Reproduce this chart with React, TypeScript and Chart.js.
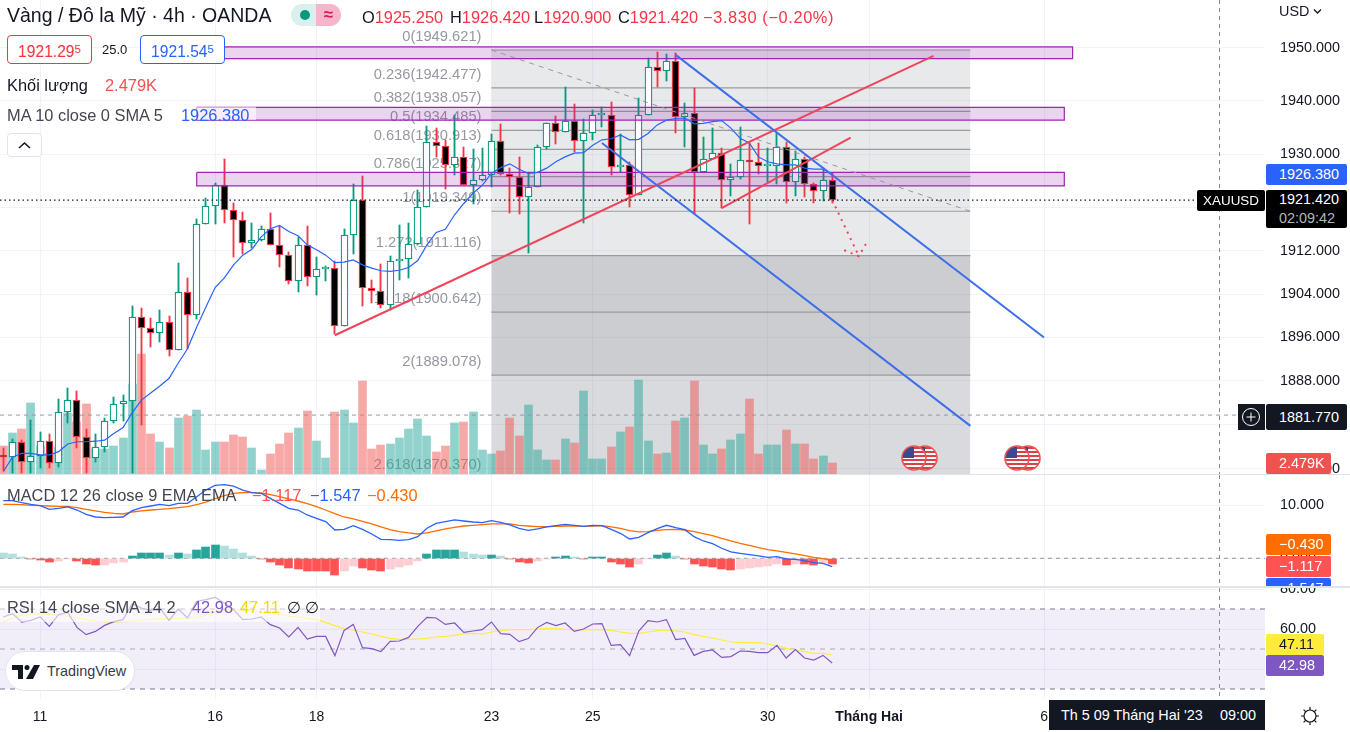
import React, { useEffect, useRef } from "react";
import { Chart, registerables } from "chart.js";

Chart.register(...registerables);

const FONT = '"Liberation Sans", Arial, sans-serif';

const open = [1874.5,1874.1,1876.8,1873.3,1874.3,1877,1873,1882.3,1884.6,1877.7,1873.9,1875.9,1880.6,1883.7,1884.3,1899.7,1897.7,1896.8,1898.8,1893.6,1904.3,1900.1,1917,1920.3,1924.2,1919.5,1917.7,1913.4,1914,1916,1913,1911.2,1906.5,1913,1907.1,1908.6,1908.8,1898.1,1914.9,1921.4,1905.2,1904.5,1901.9,1910.1,1910.4,1913.3,1920.1,1932.2,1931.6,1927.9,1929.4,1924.2,1925.1,1926.1,1932.4,1926.3,1925.8,1922,1923.8,1931.3,1935.8,1934.1,1936.2,1932.4,1933.9,1937.3,1937.3,1927.6,1927.9,1922.3,1937.3,1946.4,1945.6,1947.5,1937,1937.7,1926.6,1929.2,1930.2,1925.1,1925.7,1928.9,1928.5,1927.8,1927.8,1931.3,1924.8,1929.1,1924.4,1923.1,1925.25];
const high = [1875.8,1877.4,1877.2,1880.9,1878.6,1878.4,1884.7,1886.7,1886.1,1879.2,1878.4,1881.2,1885,1885.4,1901.8,1901.4,1899.6,1901.1,1900,1909.7,1907,1917.9,1921.8,1924.6,1929.1,1920.8,1919.3,1917.1,1916.6,1919,1916.7,1911.8,1914.6,1916.6,1910.8,1909.1,1910.2,1916,1924.4,1925.9,1906.6,1909.6,1911,1916.8,1917.2,1923.3,1935.3,1934.9,1932.7,1937.4,1931.4,1931,1931.1,1933.8,1935.7,1927.4,1929.5,1926.4,1931.7,1935.8,1937.2,1942.6,1939.4,1936.6,1938.3,1938.8,1939.8,1933.8,1928.6,1940.6,1948.1,1949.2,1948.9,1949,1939.6,1942.4,1933.2,1934.9,1931.1,1928.1,1935.1,1932.1,1932.1,1931.1,1934,1932.2,1930.7,1929.4,1924.6,1927.4,1926.42];
const low = [1871.5,1871.2,1871.2,1871.2,1872.2,1872.2,1872.4,1880.3,1875.8,1871.2,1873.3,1875.1,1880.3,1880.6,1871.2,1880,1894.3,1895.2,1892.5,1893.6,1893.8,1899.4,1917,1917,1917.1,1910.9,1911.4,1912.5,1913.8,1913,1909,1905.9,1904.4,1905.4,1903.9,1906.5,1896.6,1898.1,1911.4,1901.7,1902.4,1901.5,1901.1,1906.6,1907,1913.1,1920.1,1929.5,1923.5,1926.1,1924.2,1920.7,1925,1923.9,1926.1,1919.1,1918.9,1911.6,1923.8,1930.9,1931.9,1934.1,1930.5,1917.2,1932.7,1935.1,1926.1,1926.6,1920.1,1922.3,1937.3,1942.7,1943.8,1934,1931.4,1918.8,1926.6,1929.2,1919.9,1922.2,1925.3,1916.9,1926.3,1924.8,1924.4,1920.8,1922.2,1922,1920.9,1921.3,1920.9];
const close = [1874.1,1876.8,1873.3,1874.3,1877,1873,1882.3,1884.6,1877.7,1873.9,1875.9,1880.6,1883.7,1884.3,1899.7,1897.7,1896.8,1898.8,1893.6,1904.3,1900.1,1917,1920.3,1924.2,1919.5,1917.7,1913.4,1914,1916,1913,1911.2,1906.5,1913,1907.1,1908.6,1908.8,1898.1,1914.9,1921.4,1905.2,1904.5,1901.9,1910.1,1910.4,1913.3,1920.1,1932.2,1931.6,1927.9,1929.4,1924.2,1925.1,1926.1,1932.4,1926.3,1925.8,1922,1923.8,1931.3,1935.8,1934.1,1936.2,1932.4,1933.9,1937.3,1937.3,1927.6,1927.9,1922.3,1937.3,1946.4,1945.6,1947.5,1937,1937.7,1926.6,1929.2,1930.2,1925.1,1925.7,1928.9,1928.5,1927.8,1927.8,1931.3,1924.8,1929.1,1924.4,1923.1,1925.25,1921.42];
const ma10 = [1871.5,1874.1,1874.8,1874.8,1874.5,1874.5,1875.1,1876.5,1876.9,1876.9,1877,1877.2,1878.4,1879.5,1882.2,1884.5,1885.8,1887.1,1888.5,1891.3,1893.9,1897.9,1901.6,1905.2,1907,1909.4,1911.2,1912.3,1914.6,1916.1,1916.7,1915.6,1914.8,1913.1,1912.2,1911.2,1909.8,1909.9,1910.3,1909.4,1908.8,1908.3,1908.2,1908.4,1908.9,1910.2,1913.1,1915.4,1916,1918.7,1920.8,1922.7,1924.2,1926.4,1927.5,1928.2,1927.2,1926.4,1926.6,1927.4,1928.6,1929.5,1930.2,1930.3,1931.7,1932.7,1932.9,1933.6,1932.7,1932.8,1933.9,1935.5,1936.4,1936.7,1936.8,1935.7,1935.8,1936.1,1936.3,1934.9,1933,1932.1,1929.5,1928.6,1928.2,1928,1928,1927.4,1927.2,1927.2,1926.38];
const volumeK = [6.4,9.3,10.2,16.1,6.2,4.7,6.1,13.7,11.7,15.8,5.6,5.6,6.2,8.2,20.3,27,9.1,7.1,5.9,12.7,13.1,14.5,5.5,7.1,7.1,8.9,8.4,5.9,1,4.4,6.8,9.3,10.4,14.3,7.5,3.7,14,14.5,11.6,21,5.7,6.6,6.8,8.2,10.2,12.5,8.6,5,6.4,11.6,11.8,14,5.3,4.6,5.2,12.6,8.6,15.6,5.4,3.2,3.2,7.9,7,18.7,3.4,3.4,6.1,9.5,10.6,21.2,7.4,4.5,4.7,11.9,12.6,21,6.5,4.5,5.6,7.7,9,16.9,4.5,6.5,6.5,9.9,6.8,6.8,3.4,4.1,2.479];
const macdHist = [1,.81,.25,-.06,-.31,-.69,-.5,-.06,-.5,-1.06,-1.25,-1.19,-.88,-.69,.44,1,1,1,.63,1,.81,1.56,2.13,2.5,2.31,1.75,1,.44,-.06,-.69,-1.25,-1.81,-2,-2.38,-2.38,-2.38,-3.13,-2.38,-1.44,-1.81,-2.19,-2.38,-2,-1.63,-1.25,-.5,.81,1.56,1.56,1.56,1.19,.81,.63,.63,.44,-.06,-.69,-.88,-.5,-.06,.25,.44,.25,-.13,.25,.25,-.69,-1.06,-1.63,-1.06,-.06,.63,1,.44,-.06,-1.06,-1.44,-1.63,-2,-2.19,-2,-1.81,-1.63,-1.44,-1.06,-1.25,-1.06,-1.06,-1.25,-.88,-1.117];
const macdLine = [10.81,10.81,10.44,10.13,9.88,9.19,9.38,9.63,9.06,8.25,7.75,7.63,7.69,7.75,8.94,9.5,9.81,10.13,9.88,10.31,10.31,11.56,12.81,13.69,13.81,13.56,12.81,12.31,12.19,11.25,10.31,9.38,9.06,8.13,7.5,6.88,5.31,5.44,6.13,5.44,4.56,3.56,3.5,3.38,3.5,4.06,5.63,6.56,6.88,7.19,7,6.81,6.69,7.06,6.75,6.25,5.63,5.25,5.5,5.88,6.13,6.38,6.19,6,6.19,6.13,5.44,4.69,3.63,3.94,4.81,5.56,6.19,5.75,5.38,4.06,3.25,2.75,1.88,1.19,.94,.69,.44,.19,.31,-.13,-.19,-.44,-.81,-.94,-1.547];
const macdSignal = [10.13,10.13,10.06,9.94,9.88,9.81,9.75,9.75,9.5,9.19,8.88,8.63,8.44,8.31,8.69,8.88,9.06,9.19,9.31,9.5,9.69,10.06,10.56,11.19,11.75,12.19,12.31,12.31,12.25,11.94,11.56,11.13,10.75,10.25,9.69,9.06,8.38,7.75,7.38,6.94,6.44,5.88,5.38,5,4.75,4.56,4.75,5.13,5.5,5.81,6.06,6.19,6.31,6.44,6.44,6.44,6.19,6.06,5.94,5.94,6,6.06,6.06,6,6.06,6.13,5.88,5.63,5.19,4.94,5,5.25,5.38,5.44,5.31,5,4.63,4.25,3.75,3.25,2.81,2.44,2,1.63,1.38,1.13,.81,.5,.19,-.06,-.43];
const rsi = [66,67.7,63.5,64.3,66,61.3,67.2,68.3,60.8,57.2,58.8,61.8,63.7,64.7,72.7,70.5,69.3,70.5,64.3,70,65.5,73.8,74.7,75.8,73,69.7,64.7,65,66,62.2,60.5,56,60.8,55,56.3,56.3,46.7,59.3,62.3,50.7,50.2,48.7,53.8,54,55.8,61.3,65.8,65.5,62.3,63,58.3,59,59.7,63.5,57.7,57.3,53.7,55.2,60.7,63.3,61.7,63,58.8,60,62.5,62.7,51.8,52.2,46.7,59,64.2,63.5,64.7,54.7,55.3,46.8,48.8,49.5,45.8,46.2,49,48.8,48.2,48.2,51.8,45.5,49.7,45.5,44.5,46.8,42.98];
const rsiSma = [63.5,65.5,66.8,67.5,67.7,67.3,67,66.3,65.7,64.7,64,63.5,63.5,63.7,64,64.5,64.7,65.2,65.3,65.3,65.5,66,66.8,68.3,69.3,69.5,69.3,69,68.5,67.8,67.3,66.5,66,65.3,64.7,63.3,61.7,60.2,59.5,58.5,57.5,56.3,55.3,54.8,54.8,55,55.3,56,56.3,56.8,57.7,57.8,57.5,58.5,59.2,59.7,59.7,59.7,60,60.3,60.2,59.8,59.7,59.5,59.7,59.8,59.3,58.5,57.8,57.8,58.5,59.2,59.5,59,58.5,57.2,56.3,55.5,54.5,53.5,53.3,53.2,53.2,52.5,51.7,50.3,49.5,48.7,47.8,47.8,47.11];

const dayTickBars = [4, 23, 34, 53, 64, 83, 94, 113];
const dayTickLabels = ["11", "16", "18", "23", "25", "30", "Tháng Hai", "6"];
const priceTicks = [1950, 1940, 1930, 1920, 1912, 1904, 1896, 1888, 1880, 1872];
const macdTicks = [10, 0];
const rsiTicks = [80, 60, 40];

const fibRatios = [0, 0.236, 0.382, 0.5, 0.618, 0.786, 1, 1.272, 1.618, 2, 2.618];
const fibPrices = [1949.621, 1942.477, 1938.057, 1934.485, 1930.913, 1925.827, 1919.349, 1911.116, 1900.642, 1889.078, 1870.37];
const fibFromBar = 53;
const fibToBar = 105;

const zoneTops = [1950.2, 1938.8, 1926.6];
const zoneBottoms = [1948, 1936.4, 1924.1];
const zoneFromBars = [21, 21, 21];
const zoneToBars = [116.1, 115.2, 115.2];

const blueUpper = [[73, 1948.7], [113, 1896]];
const blueLower = [[65, 1932.1], [105, 1879.8]];
const redLong = [[36, 1896.4], [101, 1948.5]];
const redShort = [[78, 1919.95], [92, 1933.1]];
const arrowShaft = [[90, 1921.42], [92.9, 1911]];
const arrowHeadA = [[91.3, 1912.1], [92.9, 1911], [93.9, 1914]];
const lastPrice = 1921.42;
const crossPrice = 1881.77;
const crossBar = 132;

const xMin = -0.358;
const xMax = 136.99;
const bars = open.map((_, i) => i);
const isUp = (i: number) => close[i] >= open[i];

const GRID = "#f0f3fa";
const pts = (a: number[][]) => a.map(([x, y]) => ({ x, y }));
const flat = (v: number, a = xMin, b = xMax) => [{ x: a, y: v }, { x: b, y: v }];
const lineDs = (data: any[], color: string, width: number, order: number, extra: any = {}) => ({
  type: "line", data, borderColor: color, borderWidth: width, pointRadius: 0, tension: 0, order, yAxisID: "y", fill: false, ...extra,
});

const noPad = (s: any) => { s.paddingTop = 0; s.paddingBottom = 0; s.paddingLeft = 0; s.paddingRight = 0; };

const snapBars = {
  id: "snapBars",
  afterDatasetsUpdate(chart: any) {
    chart.data.datasets.forEach((_: any, idx: number) => {
      const meta = chart.getDatasetMeta(idx);
      if (meta.type !== "bar") return;
      meta.data.forEach((el: any) => {
        el.x = Math.floor(el.x) + 0.5;
        el.y = Math.round(el.y);
        el.base = Math.round(el.base);
      });
    });
  },
};

const crosshair = {
  id: "crosshair",
  afterDraw(chart: any) {
    const { ctx, chartArea, scales } = chart;
    const px = scales.x.getPixelForValue(crossBar);
    ctx.save();
    ctx.strokeStyle = "#8b8e97";
    ctx.setLineDash([4, 4]);
    ctx.lineWidth = 1;
    ctx.beginPath();
    ctx.moveTo(Math.round(px) + 0.5, chartArea.top);
    ctx.lineTo(Math.round(px) + 0.5, chartArea.bottom);
    ctx.stroke();
    ctx.restore();
  },
};

const fibLabels = {
  id: "fibLabels",
  beforeDatasetsDraw(chart: any) {
    const { ctx, scales } = chart;
    ctx.save();
    ctx.font = `14.7px ${FONT}`;
    ctx.fillStyle = "#9598a1";
    ctx.textAlign = "right";
    ctx.textBaseline = "middle";
    const x = scales.x.getPixelForValue(fibFromBar) - 10;
    fibRatios.forEach((r, i) => {
      ctx.fillText(`${r}(${fibPrices[i].toFixed(3)})`, x, scales.y.getPixelForValue(fibPrices[i]) - 13);
    });
    ctx.restore();
  },
};

function scales(yType: string, yMin: number, yMax: number, yTicks: number[], digits: number, xHeight = 0, withLabels = false): any {
  return {
    x: {
      type: "linear", min: xMin, max: xMax, offset: false, bounds: "data",
      grid: { color: GRID, drawTicks: false, offset: false },
      border: { display: false },
      afterBuildTicks: (s: any) => { s.ticks = dayTickBars.map((value) => ({ value })); },
      afterFit: (s: any) => { s.height = xHeight; noPad(s); },
      ticks: {
        display: withLabels, autoSkip: false, maxRotation: 0, padding: 10, color: "#131722",
        font: (c: any) => ({ family: FONT, size: 14, weight: c.tick && c.tick.value === 94 ? "bold" : "normal" }),
        callback: (v: number) => dayTickLabels[dayTickBars.indexOf(v)] ?? "",
      },
    },
    y: {
      type: yType, position: "right", min: yMin, max: yMax, bounds: "data",
      grid: { color: GRID, drawTicks: false },
      border: { display: false },
      afterBuildTicks: (s: any) => { s.ticks = yTicks.map((value) => ({ value })); },
      afterFit: (s: any) => { s.width = 85; noPad(s); },
      ticks: {
        autoSkip: false, padding: 15, color: "#131722", font: { family: FONT, size: 14.4 },
        callback: (v: number) => Number(v).toFixed(digits),
      },
    },
  };
}

const baseOptions = (sc: any, top = 0): any => ({
  responsive: false, animation: false, events: [],
  layout: { padding: { top, left: 0, right: 0, bottom: 0 } },
  plugins: { legend: { display: false }, tooltip: { enabled: false } },
  scales: sc,
});

function priceConfig(): any {
  const datasets: any[] = [];
  const area = (a: number, b: number, alpha: number) =>
    lineDs(flat(a, fibFromBar, fibToBar), "transparent", 0, 60, { fill: { value: b }, backgroundColor: `rgba(120,123,134,${alpha})` });
  datasets.push(area(fibPrices[0], fibPrices[7], 0.17));
  datasets.push(area(fibPrices[7], fibPrices[9], 0.38));
  datasets.push(area(fibPrices[9], fibPrices[10], 0.28));
  fibPrices.forEach((p) => datasets.push(lineDs(flat(p, fibFromBar, fibToBar), "#9a9aa1", 1.2, 55)));
  datasets.push({
    type: "bar", yAxisID: "v", order: 50, grouped: false, barThickness: 8,
    data: bars.map((i) => ({ x: i, y: volumeK[i] })),
    backgroundColor: bars.map((i) => (isUp(i) ? "rgba(38,166,154,.5)" : "rgba(239,83,80,.5)")),
    borderWidth: 0,
  });
  datasets.push(lineDs(flat(crossPrice), "#9598a1", 1, 45, { borderDash: [4, 4] }));
  datasets.push({
    type: "bar", yAxisID: "y", order: 30, grouped: false, barThickness: 1.2, borderWidth: 0,
    data: bars.map((i) => ({ x: i, y: [low[i], high[i]] })),
    backgroundColor: bars.map((i) => (isUp(i) ? "#089981" : "#f23645")),
  });
  datasets.push({
    type: "bar", yAxisID: "y", order: 29, grouped: false, barThickness: 7, borderWidth: 1.25, borderSkipped: false, minBarLength: 2,
    data: bars.map((i) => ({ x: i, y: [Math.min(open[i], close[i]), Math.max(open[i], close[i])] })),
    backgroundColor: bars.map((i) => (isUp(i) ? "#ffffff" : "#000000")),
    borderColor: bars.map((i) => (isUp(i) ? "#089981" : "#f23645")),
  });
  zoneTops.forEach((t, i) => {
    const a = zoneFromBars[i];
    const b = zoneToBars[i];
    const bot = zoneBottoms[i];
    datasets.push(lineDs(flat(t, a, b), "transparent", 0, 25, { fill: { value: bot }, backgroundColor: "rgba(156,39,176,.2)" }));
    datasets.push(lineDs([{ x: a, y: t }, { x: b, y: t }, { x: b, y: bot }, { x: a, y: bot }, { x: a, y: t }], "#9c27b0", 1.2, 24));
  });
  datasets.push(lineDs(bars.map((i) => ({ x: i, y: ma10[i] })), "#2962ff", 1.2, 20));
  datasets.push(lineDs([{ x: fibFromBar, y: fibPrices[0] }, { x: fibToBar, y: fibPrices[6] }], "#9598a1", 1, 15, { borderDash: [5, 5] }));
  datasets.push(lineDs(pts(redLong), "#ef4459", 2, 12));
  datasets.push(lineDs(pts(redShort), "#ef4459", 2, 12));
  datasets.push(lineDs(pts(blueUpper), "#3f6fe8", 2, 11));
  datasets.push(lineDs(pts(blueLower), "#3f6fe8", 2, 11));
  datasets.push(lineDs(pts(arrowShaft), "#ef4459", 2, 10, { borderDash: [2, 5] }));
  datasets.push(lineDs(pts(arrowHeadA), "#ef4459", 2, 10, { borderDash: [2, 5] }));
  datasets.push(lineDs(flat(lastPrice), "#131722", 1.4, 5, { borderDash: [1.5, 3] }));
  const sc = scales("logarithmic", 1871.04, 1959.1, priceTicks, 3);
  sc.v = { type: "linear", display: false, min: 0, max: 106.8, bounds: "data" };
  return { type: "bar", data: { datasets }, options: baseOptions(sc), plugins: [snapBars, fibLabels, crosshair] };
}

function macdConfig(): any {
  const colorFor = (i: number) => {
    const v = macdHist[i];
    const prev = i > 0 ? macdHist[i - 1] : Infinity;
    if (v >= 0) return v >= prev ? "#26a69a" : "#b2dfdb";
    return v <= prev ? "#ff5252" : "#ffcdd2";
  };
  const datasets: any[] = [
    lineDs(flat(0), "#9598a1", 1, 40, { borderDash: [4, 4] }),
    {
      type: "bar", yAxisID: "y", order: 30, grouped: false, barThickness: 8, borderWidth: 0,
      data: bars.map((i) => ({ x: i, y: macdHist[i] })),
      backgroundColor: bars.map(colorFor),
    },
    lineDs(bars.map((i) => ({ x: i, y: macdSignal[i] })), "#ff6d00", 1.3, 21),
    lineDs(bars.map((i) => ({ x: i, y: macdLine[i] })), "#2962ff", 1.3, 20),
  ];
  return { type: "bar", data: { datasets }, options: baseOptions(scales("linear", -5.2, 15.63, macdTicks, 3)), plugins: [snapBars, crosshair] };
}

function rsiConfig(): any {
  const datasets: any[] = [
    lineDs(flat(70), "transparent", 0, 40, { fill: { value: 30 }, backgroundColor: "rgba(126,87,194,.1)" }),
    lineDs(flat(70), "#787b86", 1, 39, { borderDash: [5, 5] }),
    lineDs(flat(50), "#a8abb3", 1, 39, { borderDash: [5, 5] }),
    lineDs(flat(30), "#787b86", 1, 39, { borderDash: [5, 5] }),
    lineDs(bars.map((i) => ({ x: i, y: rsiSma[i] })), "#ffeb3b", 1.2, 21),
    lineDs(bars.map((i) => ({ x: i, y: rsi[i] })), "#7e57c2", 1.2, 20),
  ];
  return { type: "line", data: { datasets }, options: baseOptions(scales("linear", 25, 80.5, rsiTicks, 2, 33, true), 8), plugins: [crosshair] };
}

function Pane({ top, height, config }: { top: number; height: number; config: () => any }) {
  const ref = useRef<HTMLCanvasElement>(null);
  useEffect(() => {
    const chart = new Chart(ref.current as HTMLCanvasElement, config());
    return () => chart.destroy();
  }, []);
  return <canvas ref={ref} width={1350} height={height} style={{ position: "absolute", left: 0, top, width: 1350, height }} />;
}

function T({ x, y, c = "#131722", s = 16.4, w, children, ls }: any) {
  return (
    <span style={{
      position: "absolute", left: x, top: y - 12, height: 24, lineHeight: "24px", letterSpacing: ls,
      color: c, fontSize: s, fontWeight: w, whiteSpace: "nowrap", fontFamily: FONT,
    }}>{children}</span>
  );
}

function Tag({ x = 1266, y, w, h, bg, c = "#fff", s = 14.4, children, center }: any) {
  return (
    <div style={{
      position: "absolute", left: x, top: y, width: w, height: h, background: bg, color: c, fontSize: s, fontFamily: FONT, boxSizing: "border-box",
      paddingLeft: center ? 0 : 13, lineHeight: `${h}px`, textAlign: center ? "center" : "left", borderRadius: 2, overflow: "hidden", whiteSpace: "nowrap",
    }}>{children}</div>
  );
}

function Flag({ cx, cy }: { cx: number; cy: number }) {
  const r = 12;
  const id = `f${cx}`;
  return (
    <svg style={{ position: "absolute", left: cx - r - 2, top: cy - r - 2 }} width={2 * r + 4} height={2 * r + 4} viewBox={`${-r - 2} ${-r - 2} ${2 * r + 4} ${2 * r + 4}`}>
      <clipPath id={id}><circle r={r} /></clipPath>
      <g clipPath={`url(#${id})`}>
        <rect x={-r} y={-r} width={2 * r} height={2 * r} fill="#fff" />
        {[-10, -6, -2, 2, 6, 10].map((v) => <rect key={v} x={-r} y={v - 1} width={2 * r} height={2} fill="#d8404a" />)}
        <rect x={-r} y={-r} width={r} height={r} fill="#3c4a8c" />
      </g>
      <circle r={r} fill="none" stroke="#ef5350" strokeWidth={1.6} />
    </svg>
  );
}

function ValueBox({ x, w, color, main, sup }: any) {
  return (
    <div style={{
      position: "absolute", left: x, top: 35, width: w, height: 29, boxSizing: "border-box", border: `1px solid ${color}`, borderRadius: 4,
      background: "#fff", color, fontFamily: FONT, fontSize: 15.6, lineHeight: "27px", textAlign: "center",
    }}>{main}<span style={{ fontSize: 11.5, verticalAlign: 4 }}>{sup}</span></div>
  );
}

export default function App() {
  useEffect(() => { document.body.style.margin = "0"; }, []);
  const red = "#f23645";
  return (
    <div style={{ position: "fixed", left: 0, top: 0, width: 1350, height: 732, overflow: "hidden", background: "#fff" }}>
      <Pane top={0} height={474} config={priceConfig} />
      <Pane top={475} height={111} config={macdConfig} />
      <Pane top={580} height={152} config={rsiConfig} />
      <div style={{ position: "absolute", left: 0, top: 474, width: 1350, height: 1, background: "#e0e3eb" }} />
      <div style={{ position: "absolute", left: 0, top: 586, width: 1350, height: 2, background: "#e0e3eb" }} />

      <T x={7} y={15} s={19.5}>Vàng / Đô la Mỹ · 4h · OANDA</T>
      <div style={{ position: "absolute", left: 291, top: 4, width: 25, height: 22, background: "#daf0ec", borderRadius: "11px 0 0 11px" }}>
        <div style={{ position: "absolute", left: 9, top: 6, width: 10, height: 10, borderRadius: 5, background: "#089981" }} />
      </div>
      <div style={{ position: "absolute", left: 316, top: 4, width: 25, height: 22, background: "#f7b5cc", borderRadius: "0 11px 11px 0", color: "#d81b60", fontFamily: FONT, fontSize: 17, fontWeight: 700, lineHeight: "21px", textAlign: "center" }}>≈</div>
      <T x={362} y={17}>O<span style={{ color: red }}>1925.250</span></T>
      <T x={450} y={17}>H<span style={{ color: red }}>1926.420</span></T>
      <T x={534} y={17}>L<span style={{ color: red }}>1920.900</span></T>
      <T x={618} y={17}>C<span style={{ color: red }}>1921.420</span></T>
      <T x={703} y={17} c={red} ls={0.6}>−3.830 (−0.20%)</T>

      <div style={{ position: "absolute", left: 0, top: 107, width: 256, height: 13, background: "rgba(255,255,255,.6)" }} />
      <div style={{ position: "absolute", left: 0, top: 597, width: 320, height: 25, background: "rgba(255,255,255,.6)" }} />

      <ValueBox x={7} w={85} color={red} main="1921.29" sup="5" />
      <T x={102} y={50} s={13}>25.0</T>
      <ValueBox x={140} w={85} color="#2962ff" main="1921.54" sup="5" />
      <T x={7} y={85}>Khối lượng</T>
      <T x={105} y={85} c="#ef5350">2.479K</T>
      <T x={7} y={115} c="#434651">MA 10 close 0 SMA 5</T>
      <T x={181} y={115} c="#2962ff">1926.380</T>
      <div style={{ position: "absolute", left: 7, top: 133, width: 35, height: 24, boxSizing: "border-box", border: "1px solid #e0e3eb", borderRadius: 4, background: "#fff" }}>
        <svg width="33" height="22"><path d="M11 14 L16.5 9 L22 14" fill="none" stroke="#131722" strokeWidth="1.6" /></svg>
      </div>

      <T x={7} y={495} c="#434651">MACD 12 26 close 9 EMA EMA</T>
      <T x={252} y={495} c="#ff5252">−1.117</T>
      <T x={310} y={495} c="#2962ff">−1.547</T>
      <T x={367} y={495} c="#ff6d00">−0.430</T>

      <T x={7} y={607} c="#434651">RSI 14 close SMA 14 2</T>
      <T x={192} y={607} c="#7e57c2">42.98</T>
      <T x={240} y={607} c="#f5d90a">47.11</T>
      <T x={287} y={607} c="#131722">∅</T>
      <T x={305} y={607} c="#131722">∅</T>

      <div style={{ position: "absolute", left: 5, top: 651, width: 130, height: 40, boxSizing: "border-box", border: "1px solid #e0e3eb", borderRadius: 20, background: "#fff" }}>
        <svg style={{ position: "absolute", left: 6, top: 13 }} width="28" height="14" viewBox="0 0 28 14">
          <path d="M0 0 H11 V14 H6 V5 H0 Z" fill="#131722" />
          <circle cx="15" cy="2.5" r="2.5" fill="#131722" />
          <path d="M22 0 H28 L21 14 H14 Z" fill="#131722" />
        </svg>
        <T x={41} y={19} s={14.4} c="#363a45">TradingView</T>
      </div>

      <Flag cx={925} cy={458} />
      <Flag cx={914} cy={458} />
      <Flag cx={1028} cy={458} />
      <Flag cx={1017} cy={458} />

      <T x={1279} y={11} s={14.4}>USD</T>
      <svg style={{ position: "absolute", left: 1313, top: 8 }} width="9" height="7"><path d="M1 1.5 L4.5 5 L8 1.5" fill="none" stroke="#131722" strokeWidth="1.3" /></svg>

      <Tag y={164} w={81} h={21} bg="#2962ff">1926.380</Tag>
      <Tag x={1197} y={190} w={68} h={21} s={13.4} bg="#000" center>XAUUSD</Tag>
      <div style={{ position: "absolute", left: 1266, top: 190, width: 81, height: 38, background: "#000", color: "#fff", fontFamily: FONT, fontSize: 14.4, paddingLeft: 13, boxSizing: "border-box", lineHeight: "19px", borderRadius: 2 }}>
        1921.420<br /><span style={{ color: "#b4b6bc" }}>02:09:42</span>
      </div>
      <div style={{ position: "absolute", left: 1238, top: 404, width: 27, height: 26, background: "#131722" }}>
        <svg width="26" height="26"><circle cx="13" cy="13" r="8.5" fill="none" stroke="#fff" /><path d="M13 8.5 V17.5 M8.5 13 H17.5" stroke="#fff" /></svg>
      </div>
      <Tag y={404} w={81} h={26} bg="#131722">1881.770</Tag>
      <Tag y={453} w={65} h={21} bg="#ef5350">2.479K</Tag>

      <Tag y={534} w={65} h={21} bg="#ff6d00">−0.430</Tag>
      <Tag y={556} w={65} h={21} bg="#ff5252">−1.117</Tag>
      <div style={{ position: "absolute", left: 1266, top: 578, width: 65, height: 8, paddingLeft: 13, boxSizing: "border-box", background: "#2962ff", overflow: "hidden", color: "#fff", fontFamily: FONT, fontSize: 14.4, lineHeight: "20px", borderRadius: "2px 2px 0 0" }}>−1.547</div>
      <Tag y={634} w={58} h={21} bg="#ffeb3b" c="#131722">47.11</Tag>
      <Tag y={655} w={58} h={21} bg="#7e57c2">42.98</Tag>

      <div style={{ position: "absolute", left: 1049, top: 700, width: 216, height: 30, background: "#131722", color: "#fff", fontFamily: FONT, fontSize: 14.4, lineHeight: "30px" }}>
        <span style={{ position: "absolute", left: 12 }}>Th 5 09 Tháng Hai '23</span>
        <span style={{ position: "absolute", left: 171 }}>09:00</span>
      </div>
      <svg style={{ position: "absolute", left: 1300, top: 706 }} width="20" height="20" viewBox="0 0 20 20">
        <circle cx="10" cy="10" r="6" fill="none" stroke="#131722" strokeWidth="1.2" />
        <path d="M10 1 V4 M10 16 V19 M1 10 H4 M16 10 H19 M3.6 3.6 L5.8 5.8 M14.2 14.2 L16.4 16.4 M3.6 16.4 L5.8 14.2 M14.2 5.8 L16.4 3.6" stroke="#131722" strokeWidth="1.2" />
      </svg>
    </div>
  );
}
